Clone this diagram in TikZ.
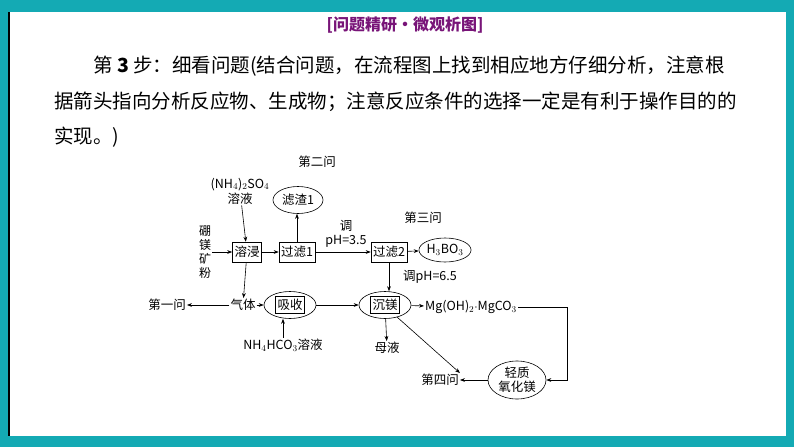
\documentclass[tikz,border=0pt]{standalone}
\usepackage{fontspec}
\setmainfont{Liberation Serif}
\newfontfamily\cjk{Noto Sans CJK SC}
\usetikzlibrary{arrows.meta,positioning,shapes.geometric}
\definecolor{frameteal}{RGB}{20,170,180}
\definecolor{titlepurple}{RGB}{120,20,120}
\tikzset{
  every node/.style={font=\cjk\fontsize{12.5}{15}\selectfont, inner sep=1pt},
  stepbox/.style={draw, line width=0.6pt, minimum height=20pt, inner sep=2pt},
  blob/.style={ellipse, draw, line width=0.6pt, inner sep=0pt},
  flow/.style={-{Stealth[length=5pt]}, line width=0.6pt},
  bodytext/.style={font=\cjk\fontsize{19.5}{20}\selectfont, anchor=west}
}
\begin{document}
\begin{tikzpicture}[x=1pt,y=-1pt]
  \useasboundingbox (0,0) rectangle (794,447);
  % frame
  \fill[frameteal] (0,0) rectangle (794,447);
  \fill[white] (9,12) rectangle (786,436);
  \draw[line width=1.5pt] (9,12) -- (9,436);
  % heading and text
  \node[font=\cjk\bfseries\fontsize{16}{17}\selectfont, text=titlepurple] (head) at (405,25) {[问题精研·微观析图]};
  \node[bodytext] (line1) at (92,66) {第 \textbf{3} 步：细看问题(结合问题，在流程图上找到相应地方仔细分析，注意根};
  \node[bodytext] (line2) at (53,102) {据箭头指向分析反应物、生成物；注意反应条件的选择一定是有利于操作目的的};
  \node[bodytext] (line3) at (53,137) {实现。)};
  % flow chart
  \node (q2) at (317,162) {第二问};
  \node[align=center] (ammsulf) at (240,191) {(NH$_4$)$_2$SO$_4$\\溶液};
  \node[blob, minimum width=50pt, minimum height=27pt] (slag) at (298,200) {滤渣1};
  \node[align=center, font=\cjk\fontsize{12}{14}\selectfont] (ore) at (205,252) {硼\\镁\\矿\\粉};
  \node[stepbox] (leach) at (247,252) {溶浸};
  \node[stepbox] (filt1) at (297,252) {过滤1};
  \node[stepbox] (filt2) at (389,252) {过滤2};
  \node[blob, minimum width=50pt, minimum height=24pt] (boric) at (445,250) {H$_3$BO$_3$};
  \node (q3) at (423,218) {第三问};
  \node[align=center, font=\cjk\fontsize{12.5}{14}\selectfont] (ph35) at (346,234) {调\\pH=3.5};
  \node (ph65) at (430,277) {调pH=6.5};
  \node (gas) at (243,305) {气体};
  \node (q1) at (167,305) {第一问};
  \node[blob, minimum width=52pt, minimum height=27pt] (absorb) at (290,305) {};
  \node[stepbox, minimum height=17pt] at (absorb) {吸收};
  \node[blob, minimum width=52pt, minimum height=27pt] (precip) at (385,305) {};
  \node[stepbox, minimum height=17pt] at (precip) {沉镁};
  \node[anchor=west] (product) at (424,307) {Mg(OH)$_2$$\cdot$MgCO$_3$};
  \node (bicarb) at (283,345) {NH$_4$HCO$_3$溶液};
  \node (mother) at (387,348) {母液};
  \node (q4) at (440,380) {第四问};
  \node[blob, align=center, font=\cjk\fontsize{12.5}{14}\selectfont, minimum width=58pt, minimum height=38pt] (mgo) at (517,380) {轻质\\氧化镁};
  \coordinate (turn1) at (567,307);
  \coordinate (turn2) at (567,380);
  % connectors
  \draw[flow] (ammsulf) -- (leach);
  \draw[flow] (ore.east |- leach) -- (leach);
  \draw[flow] (leach) -- (filt1);
  \draw[flow] (filt1) -- (filt1 |- slag.south);
  \draw[flow] (filt1) -- (filt2);
  \draw[flow] (filt2) -- (boric);
  \draw[flow] (leach) -- (gas);
  \draw[flow] (gas) -- (q1);
  \draw[flow] (gas) -- (absorb);
  \draw[flow] (bicarb) -- (bicarb |- absorb.south);
  \draw[flow] (absorb) -- (precip);
  \draw[flow] (filt2) -- (filt2 |- precip.north);
  \draw[flow] (precip) -- (product);
  \draw[flow] (precip) -- (mother);
  \draw[flow] (precip.-45) -- (q4.north east);
  \draw[flow] (product.east) -- (turn1) -- (turn2) -- (mgo);
  \draw[flow] (mgo) -- (q4);
\end{tikzpicture}
\end{document}
